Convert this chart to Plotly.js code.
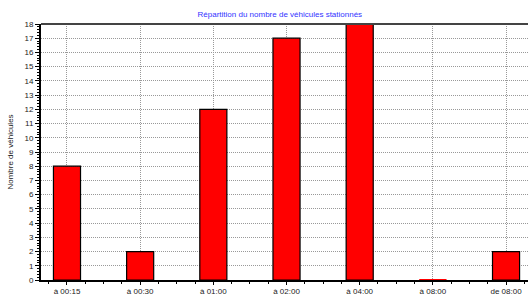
<!DOCTYPE html>
<html><head><meta charset="utf-8">
<script src="https://cdn.plot.ly/plotly-3.0.1.min.js"></script>
<style>html,body{margin:0;padding:0;background:#fff}#chart{width:528px;height:296px}</style>
</head><body><div id="chart"></div>
<script>
const categories = ["à 00:15", "à 00:30", "à 01:00", "à 02:00", "à 04:00", "à 08:00", "de 08:00"];
const vehicles = [8, 2, 12, 17, 18, 0, 2];
const yTicks = [0,1,2,3,4,5,6,7,8,9,10,11,12,13,14,15,16,17,18];

const xs = categories.map((c, i) => i);
const barWidth = 0.37;
const font = {family: "Liberation Sans, Arial, sans-serif", size: 8, color: "#222"};

const shapes = vehicles.map((v, i) => v === 0 ? {
  type: "line", xref: "x", yref: "y", layer: "above",
  x0: i - barWidth / 2, x1: i + barWidth / 2, y0: 0, y1: 0,
  line: {color: "#ff0000", width: 2}
} : null).filter(Boolean);

const trace = {
  type: "bar", x: xs, y: vehicles, width: barWidth,
  marker: {color: "#ff0000", line: {color: vehicles.map(v => v === 0 ? "#ff0000" : "#000"), width: 1.2}},
  hoverinfo: "none"
};

const layout = {
  width: 528, height: 296,
  margin: {l: 41, r: 0, t: 24, b: 16},
  paper_bgcolor: "#fff", plot_bgcolor: "#fff",
  showlegend: false,
  font: font,
  title: {text: "Répartition du nombre de véhicules stationnés", font: {family: font.family, size: 8, color: "#3333ff"}, x: 0.53, xanchor: "center", y: 0.952, yanchor: "middle"},
  xaxis: {
    range: [-0.355, 6.30], tickvals: xs, ticktext: categories,
    showgrid: true, gridcolor: "#999", griddash: "1px,1px", gridwidth: 1,
    ticks: "outside", ticklen: 3, tickcolor: "#000", tickfont: font,
    showline: true, linecolor: "#000", linewidth: 1.5, zeroline: false,
    layer: "below traces",
    minor: {dtick: 0.25, tick0: 0, ticks: "outside", ticklen: 2, tickcolor: "#000", showgrid: false},
    fixedrange: true
  },
  yaxis: {
    range: [0, 18], tickvals: yTicks, ticktext: yTicks.map(String),
    showgrid: true, gridcolor: "#999", griddash: "1px,1px", gridwidth: 1,
    ticks: "outside", ticklen: 4, tickcolor: "#000", tickfont: font,
    showline: true, linecolor: "#000", linewidth: 2, zeroline: false,
    minor: {dtick: 0.2, tick0: 0, ticks: "outside", ticklen: 2, tickcolor: "#000", showgrid: false},
    title: {text: "Nombre de véhicules", font: font, standoff: 10},
    fixedrange: true
  },
  shapes: shapes.concat([{type: "line", xref: "paper", yref: "paper", x0: 0, x1: 1, y0: 1, y1: 1, line: {color: "#444", width: 2}}])
};

Plotly.newPlot("chart", [trace], layout, {displayModeBar: false, staticPlot: true});
</script></body></html>
